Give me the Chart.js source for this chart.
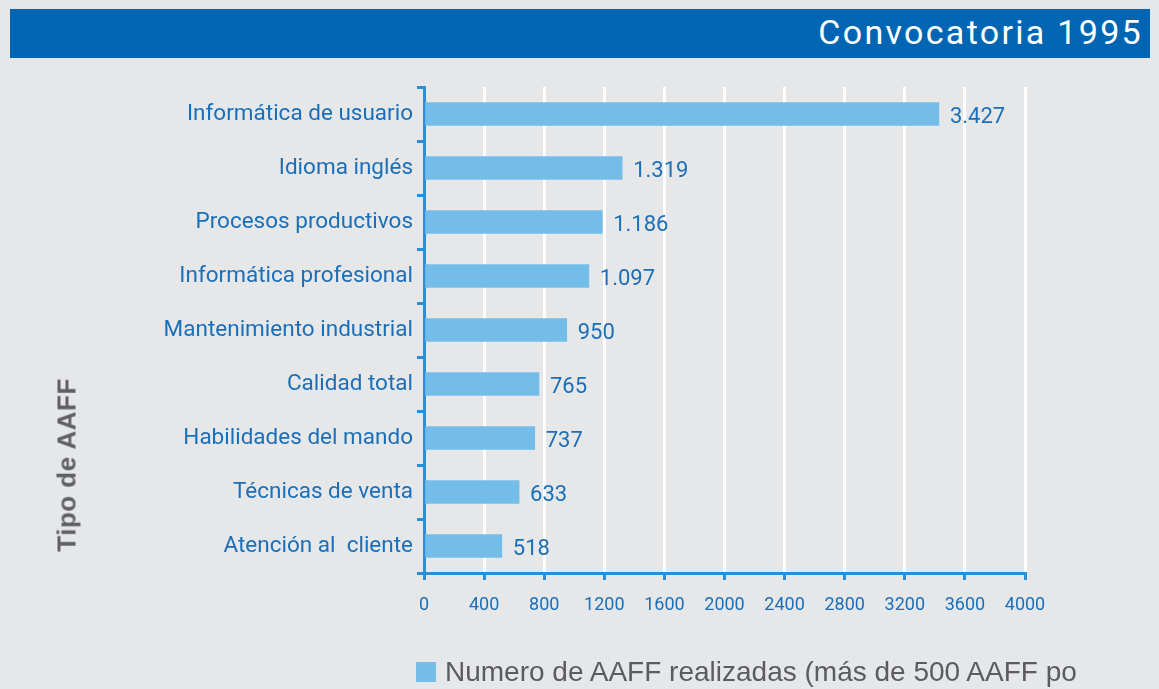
<!DOCTYPE html>
<html>
<head>
<meta charset="utf-8">
<script src="https://cdn.jsdelivr.net/npm/chart.js@4"></script>
<style>
  body { margin: 0; background: #e6e7e9; width: 1159px; height: 689px; overflow: hidden; position: relative; }
  #header { position: absolute; left: 10px; top: 9px; width: 1140px; height: 49px; background: #0066b3; z-index: 2; }
  #header span { position: absolute; right: 7px; top: 3px; color: #fff; font: 34px "Roboto", sans-serif; letter-spacing: 2.3px; }
  #wrap { position: absolute; left: 0; top: 0; width: 1159px; height: 689px; }
  #ytitle { position: absolute; left: 67px; top: 465px; transform: translate(-50%, -50%) rotate(-90deg); font: bold 26px "Liberation Sans", Arial, sans-serif; color: #5f6062; white-space: nowrap; letter-spacing: 0.5px; }
  #legend { position: absolute; left: 416px; top: 656px; font: 28px "Liberation Sans", Arial, sans-serif; color: #5b5c5e; white-space: nowrap; }
  #legend i { display: inline-block; width: 20px; height: 20px; background: #74bde8; margin-right: 9px; vertical-align: -1px; }
</style>
</head>
<body>
<div id="header"><span>Convocatoria 1995</span></div>
<div id="wrap"><canvas id="chart"></canvas></div>
<div id="ytitle">Tipo de AAFF</div>
<div id="legend"><i></i>Numero de AAFF realizadas (más de 500 AAFF po</div>
<script>
var categories = [
    "Informática de usuario",
    "Idioma inglés",
    "Procesos productivos",
    "Informática profesional",
    "Mantenimiento industrial",
    "Calidad total",
    "Habilidades del mando",
    "Técnicas de venta",
    "Atención al  cliente"
];
var values = [3427, 1319, 1186, 1097, 950, 765, 737, 633, 518];
var xTicks = [0, 400, 800, 1200, 1600, 2000, 2400, 2800, 3200, 3600, 4000];
var seriesName = "Numero de AAFF realizadas (más de 500 AAFF po";

var blue = '#1b6fb8';
var axisBlue = '#2a8fd6';
var narrow = '"Roboto", sans-serif';

function formatNum(v) {
    return String(v).replace(/\B(?=(\d{3})+(?!\d))/g, '.');
}

var valueLabels = {
    id: 'valueLabels',
    afterDatasetsDraw: function (chart) {
        var ctx = chart.ctx;
        var meta = chart.getDatasetMeta(0);
        ctx.save();
        ctx.fillStyle = blue;
        ctx.font = '22px ' + narrow;
        ctx.textBaseline = 'middle';
        meta.data.forEach(function (bar, i) {
            ctx.fillText(formatNum(values[i]), bar.x + 11, bar.y + 3);
        });
        ctx.restore();
    }
};

new Chart(document.getElementById('chart'), {
    type: 'bar',
    data: {
        labels: categories,
        datasets: [{
            label: seriesName,
            data: values,
            backgroundColor: '#74bde8',
            barThickness: 23
        }]
    },
    options: {
        indexAxis: 'y',
        responsive: true,
        maintainAspectRatio: false,
        animation: false,
        layout: { padding: { top: 87, right: 134, left: 0, bottom: 0 } },
        plugins: { legend: { display: false }, tooltip: { enabled: false } },
        scales: {
            x: {
                min: 0,
                max: 4000,
                afterBuildTicks: function (scale) {
                    scale.ticks = xTicks.map(function (v) { return { value: v }; });
                },
                afterFit: function (scale) { scale.height = 116; },
                border: { color: axisBlue, width: 3 },
                grid: { color: '#ffffff', lineWidth: 3, tickColor: axisBlue, tickLength: 7, tickWidth: 3 },
                ticks: {
                    color: blue,
                    font: { size: 18, family: narrow },
                    padding: 15,
                    maxRotation: 0,
                    callback: function (v) { return String(v); }
                }
            },
            y: {
                afterFit: function (scale) { scale.width = 424; },
                border: { color: axisBlue, width: 3 },
                grid: { offset: true, drawOnChartArea: false, color: axisBlue, tickLength: 7, lineWidth: 3 },
                ticks: { color: blue, font: { size: 22.5, family: narrow }, padding: 4 }
            }
        }
    },
    plugins: [valueLabels]
});
</script>
</body>
</html>
